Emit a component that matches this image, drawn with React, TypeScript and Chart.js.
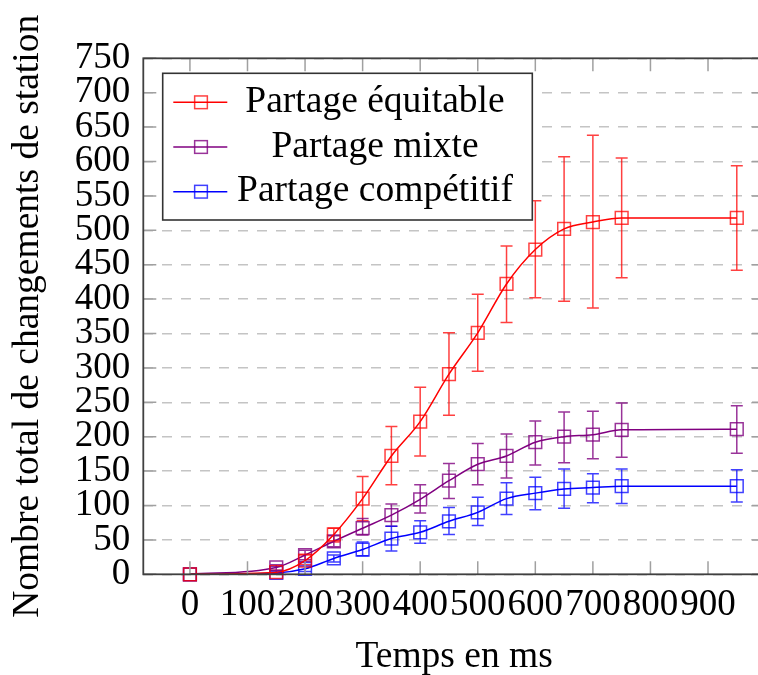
import React, { useEffect, useRef } from 'react';
import { Chart, registerables } from 'chart.js';

Chart.register(...registerables);

// ---- data ----
const timesMs = [0, 150, 200, 250, 300, 350, 400, 450, 500, 550, 600, 650, 700, 750, 950];

const equitable = [0, 3, 20, 58, 110, 172, 222, 291, 351, 422, 472, 502, 512, 518, 518];
const equitableLow = [0, 0, 14, 47, 78, 130, 172, 231, 295, 366, 402, 397, 387, 431, 442];
const equitableHigh = [0, 6, 28, 67, 142, 215, 272, 351, 407, 477, 543, 607, 638, 605, 594];

const mixte = [0, 10, 28, 48, 67, 86, 109, 136, 160, 172, 192, 200, 203, 210, 211];
const mixteLow = [0, 6, 21, 40, 57, 70, 89, 110, 130, 140, 159, 162, 168, 170, 176];
const mixteHigh = [0, 14, 35, 56, 81, 102, 130, 161, 190, 204, 223, 236, 237, 249, 245];

const competitif = [0, 2, 8, 23, 36, 52, 61, 77, 90, 110, 118, 124, 126, 128, 128];
const competitifLow = [0, 0, 4, 18, 27, 34, 45, 58, 71, 87, 94, 96, 104, 103, 105];
const competitifHigh = [0, 4, 12, 28, 47, 70, 78, 97, 112, 133, 141, 153, 146, 153, 152];

const xTickValues = [0, 100, 200, 300, 400, 500, 600, 700, 800, 900];
const yTickValues = [0, 50, 100, 150, 200, 250, 300, 350, 400, 450, 500, 550, 600, 650, 700, 750];

const seriesNames = ['Partage équitable', 'Partage mixte', 'Partage compétitif'];
const seriesValues = [equitable, mixte, competitif];
const seriesLow = [equitableLow, mixteLow, competitifLow];
const seriesHigh = [equitableHigh, mixteHigh, competitifHigh];
const lineColors = ['#ff0000', '#800080', '#0000ff'];
const markColors = ['rgba(255,0,0,0.75)', 'rgba(128,0,128,0.8)', 'rgba(0,0,255,0.75)'];

const xAxisTitle = 'Temps en ms';
const yAxisTitle = 'Nombre total de changements de station';

const FONT = '"Liberation Serif", "Times New Roman", serif';

const decorPlugin = {
  id: 'decor',
  beforeDatasetsDraw(chart: any) {
    const { ctx } = chart;
    const xs = chart.scales.x;
    const ys = chart.scales.y;
    ctx.save();
    ctx.lineWidth = 1.5;
    const cap = 6;
    seriesValues.forEach((_vals, si) => {
      ctx.strokeStyle = markColors[si];
      timesMs.forEach((t, i) => {
        const lo = seriesLow[si][i];
        const hi = seriesHigh[si][i];
        if (hi - lo <= 0) return;
        const px = xs.getPixelForValue(t);
        const y1 = ys.getPixelForValue(lo);
        const y2 = ys.getPixelForValue(hi);
        ctx.beginPath();
        ctx.moveTo(px, y1);
        ctx.lineTo(px, y2);
        ctx.moveTo(px - cap, y1);
        ctx.lineTo(px + cap, y1);
        ctx.moveTo(px - cap, y2);
        ctx.lineTo(px + cap, y2);
        ctx.stroke();
      });
    });
    ctx.restore();
  },
  afterDatasetsDraw(chart: any) {
    const { ctx, chartArea } = chart;
    const { left, right, top, bottom } = chartArea;
    const xs = chart.scales.x;
    const ys = chart.scales.y;
    ctx.save();
    // inner tick marks
    const tl = 13;
    ctx.strokeStyle = '#a0a0a0';
    ctx.lineWidth = 1.5;
    ctx.beginPath();
    yTickValues.forEach((v) => {
      const py = ys.getPixelForValue(v);
      ctx.moveTo(left, py);
      ctx.lineTo(left + tl, py);
      ctx.moveTo(right, py);
      ctx.lineTo(right - tl, py);
    });
    xTickValues.forEach((v) => {
      const px = xs.getPixelForValue(v);
      ctx.moveTo(px, bottom);
      ctx.lineTo(px, bottom - tl);
      ctx.moveTo(px, top);
      ctx.lineTo(px, top + tl);
    });
    ctx.stroke();
    // frame
    ctx.strokeStyle = '#404040';
    ctx.lineWidth = 1.8;
    ctx.strokeRect(left, top, right - left, bottom - top);

    // legend
    const bx = left + 19.4;
    const by = top + 15;
    const bw = 369.6;
    const bh = 146.7;
    ctx.fillStyle = '#ffffff';
    ctx.fillRect(bx, by, bw, bh);
    ctx.strokeStyle = '#333333';
    ctx.lineWidth = 1.6;
    ctx.strokeRect(bx, by, bw, bh);
    ctx.font = `37.5px ${FONT}`;
    ctx.textAlign = 'center';
    ctx.textBaseline = 'alphabetic';
    seriesNames.forEach((name, i) => {
      const ry = by + 29 + i * 44.7;
      ctx.strokeStyle = lineColors[i];
      ctx.lineWidth = 1.5;
      ctx.beginPath();
      ctx.moveTo(bx + 10.6, ry);
      ctx.lineTo(bx + 64.6, ry);
      ctx.stroke();
      ctx.strokeStyle = markColors[i];
      ctx.strokeRect(bx + 38.3 - 6.35, ry - 6.35, 12.7, 12.7);
      ctx.fillStyle = '#000000';
      ctx.fillText(name, bx + 212.3, ry + 9.5);
    });
    ctx.restore();
  },
};

const CANVAS_W = 790;
const CANVAS_H = 675;

export default function App() {
  const canvasRef = useRef<HTMLCanvasElement | null>(null);

  useEffect(() => {
    const canvas = canvasRef.current;
    if (!canvas) return;
    const datasets = seriesValues.map((vals, si) => ({
      label: seriesNames[si],
      data: timesMs.map((t, i) => ({ x: t, y: vals[i] })),
      borderColor: lineColors[si],
      borderWidth: 1.5,
      backgroundColor: 'transparent',
      pointStyle: 'rect' as const,
      pointRadius: 9,
      pointBorderWidth: 1.5,
      pointBorderColor: markColors[si],
      pointBackgroundColor: 'transparent',
      cubicInterpolationMode: 'monotone' as const,
      fill: false,
      clip: false as any,
    }));

    const chart = new Chart(canvas, {
      type: 'line',
      data: { datasets },
      options: {
        responsive: false,
        animation: false,
        devicePixelRatio: 1,
        layout: { autoPadding: false, padding: { left: 0, right: CANVAS_W - 765, top: 58.3, bottom: 0 } },
        plugins: {
          legend: { display: false },
          tooltip: { enabled: false },
        },
        scales: {
          x: {
            type: 'linear',
            min: -81,
            max: 999,
            afterBuildTicks: (scale: any) => {
              scale.ticks = xTickValues.map((v) => ({ value: v }));
            },
            afterFit: (scale: any) => {
              scale.height = 100.7;
            },
            grid: { display: false, drawTicks: false },
            border: { display: false },
            ticks: {
              autoSkip: false,
              maxRotation: 0,
              padding: 9,
              color: '#000',
              font: { family: FONT, size: 37 },
              callback: (v: any) => String(v),
            },
            title: {
              display: true,
              text: xAxisTitle,
              color: '#000',
              font: { family: FONT, size: 37.5, lineHeight: 0.93 },
              padding: { top: 0, bottom: 0 },
            },
          },
          y: {
            type: 'linear',
            min: 0,
            max: 750,
            afterBuildTicks: (scale: any) => {
              scale.ticks = yTickValues.map((v) => ({ value: v }));
            },
            afterFit: (scale: any) => {
              scale.width = 143.3;
            },
            grid: { display: true, drawTicks: false, color: '#c4c4c4', lineWidth: 1.5 },
            border: { display: false, dash: [10, 9] },
            ticks: {
              autoSkip: false,
              padding: 13,
              color: '#000',
              font: { family: FONT, size: 37 },
              callback: (v: any) => String(v),
            },
            title: {
              display: true,
              text: yAxisTitle,
              color: '#000',
              font: { family: FONT, size: 37.5 },
              padding: { top: 6, bottom: 0 },
            },
          },
        },
      },
      plugins: [decorPlugin],
    });
    return () => chart.destroy();
  }, []);

  return (
    <div style={{ position: 'absolute', left: 0, top: 0, width: 758, height: 675, overflow: 'hidden', background: '#fff' }}>
      <canvas
        ref={canvasRef}
        width={CANVAS_W}
        height={CANVAS_H}
        style={{ display: 'block', width: CANVAS_W, height: CANVAS_H }}
      />
    </div>
  );
}
